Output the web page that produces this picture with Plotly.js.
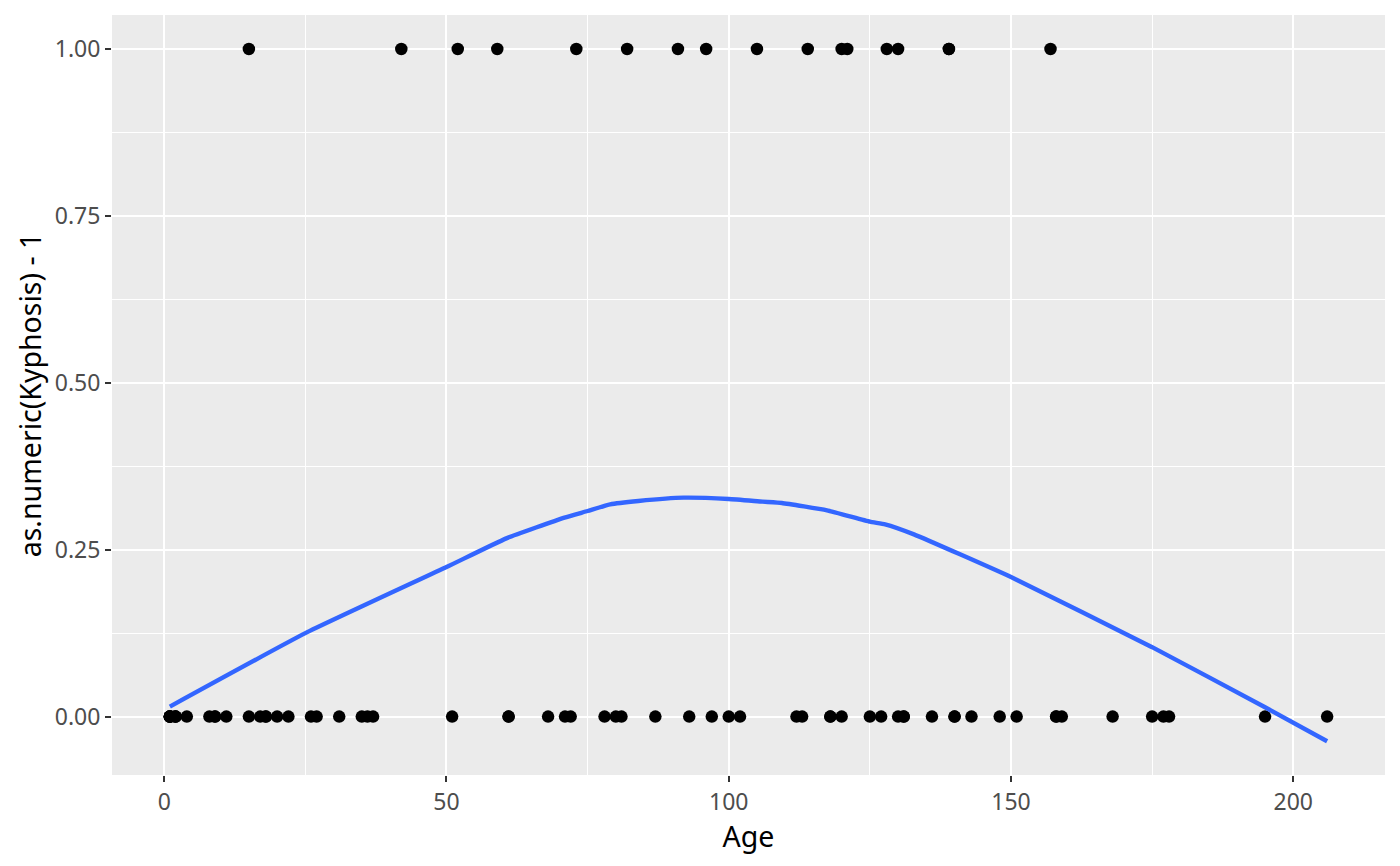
<!DOCTYPE html>
<html>
<head>
<meta charset="utf-8">
<script src="https://cdn.plot.ly/plotly-3.0.1.min.js"></script>
<style>
  html, body { margin: 0; padding: 0; background: #fff; }
  #chart { width: 1400px; height: 866px; }
</style>
</head>
<body>
<div id="chart"></div>
<script>
// ages of the patients, split by the 0/1 outcome
const agesAbsent = [71, 158, 2, 1, 1, 61, 37, 113, 148, 18, 1, 168, 1, 78, 175, 80, 27, 22,
  131, 9, 8, 100, 4, 151, 31, 125, 130, 112, 140, 93, 1, 20, 35, 143, 61, 97, 136, 131,
  177, 68, 9, 2, 140, 72, 2, 51, 102, 81, 118, 118, 17, 195, 159, 18, 15, 158, 127, 87,
  206, 11, 178, 26, 120, 36];
const agesPresent = [128, 59, 82, 105, 96, 15, 91, 73, 139, 121, 114, 120, 157, 42, 52, 130, 139];

// smoothed curve
const smoothAge = [1, 25, 50, 60.6, 70.9, 75, 79, 84, 92, 100, 106, 109.4, 117.4, 125, 127.7,
  132.8, 150, 175, 195, 206];
const smoothFit = [0.015, 0.125, 0.224, 0.267, 0.298, 0.308, 0.318, 0.323, 0.328, 0.326, 0.322,
  0.320, 0.309, 0.292, 0.288, 0.273, 0.209, 0.104, 0.014, -0.037];

const xTicks = [0, 50, 100, 150, 200];
const yTicks = [0, 0.25, 0.5, 0.75, 1];

const allAges = agesAbsent.concat(agesPresent);
const allY = agesAbsent.map(() => 0).concat(agesPresent.map(() => 1));

const traces = [
  {
    x: allAges,
    y: allY,
    type: 'scatter',
    mode: 'markers',
    marker: { color: '#000000', size: 12.5 },
    hoverinfo: 'x+y'
  },
  {
    x: smoothAge,
    y: smoothFit,
    type: 'scatter',
    mode: 'lines',
    line: { color: '#3366FF', width: 4.4, shape: 'spline', smoothing: 0.4 },
    hoverinfo: 'x+y'
  }
];

const font = '"Noto Sans", "Open Sans", "DejaVu Sans", sans-serif';

const layout = {
  width: 1400,
  height: 866,
  margin: { l: 112, r: 15, t: 15, b: 91 },
  paper_bgcolor: '#ffffff',
  plot_bgcolor: '#EBEBEB',
  showlegend: false,
  font: { family: font, color: '#4D4D4D', size: 23 },
  xaxis: {
    range: [-9.25, 216.25],
    tickvals: xTicks,
    ticktext: xTicks.map(String),
    ticks: 'outside',
    ticklen: 6,
    tickwidth: 2,
    tickcolor: '#333333',
    showgrid: true,
    gridcolor: '#ffffff',
    gridwidth: 2,
    zeroline: false,
    showline: false,
    minor: { tickvals: [25, 75, 125, 175], showgrid: true, gridcolor: '#ffffff', gridwidth: 1, ticks: '' },
    tickfont: { size: 23, color: '#4D4D4D' },
    title: { text: 'Age', font: { size: 28.5, color: '#000000' }, standoff: 4 }
  },
  yaxis: {
    range: [-0.0875, 1.051],
    tickvals: yTicks,
    ticktext: yTicks.map(v => v.toFixed(2)),
    ticks: 'outside',
    ticklen: 6,
    tickwidth: 2,
    tickcolor: '#333333',
    showgrid: true,
    gridcolor: '#ffffff',
    gridwidth: 2,
    zeroline: false,
    showline: false,
    minor: { tickvals: [0.125, 0.375, 0.625, 0.875], showgrid: true, gridcolor: '#ffffff', gridwidth: 1, ticks: '' },
    tickfont: { size: 23, color: '#4D4D4D' },
    title: { text: 'as.numeric(Kyphosis) - 1', font: { size: 28.5, color: '#000000' }, standoff: 4 }
  }
};

Plotly.newPlot('chart', traces, layout, { displayModeBar: false, staticPlot: true });
</script>
</body>
</html>
